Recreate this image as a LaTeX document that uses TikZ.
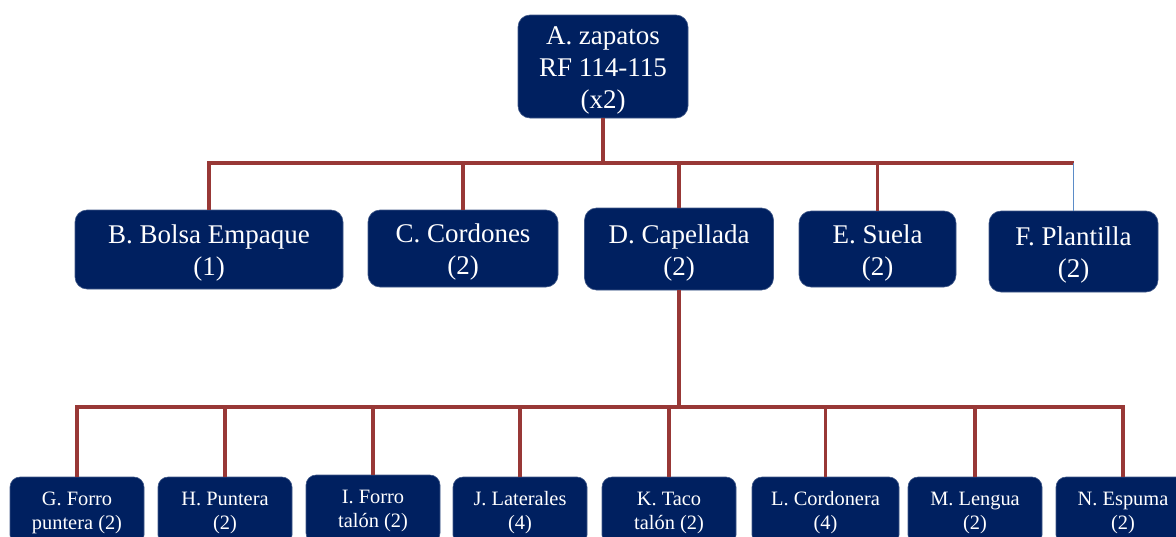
\documentclass[tikz,border=0pt]{standalone}
\usepackage{fontspec}
\setmainfont{Liberation Serif}
\newfontfamily\boxserif{Liberation Serif}
\definecolor{boxnavy}{RGB}{0,32,96}
\definecolor{linkred}{RGB}{152,56,54}
\definecolor{linkblue}{RGB}{91,140,200}
\tikzset{
  part/.style={fill=boxnavy, draw=boxnavy!75!white, line width=0.6pt,
    rounded corners=12pt, inner sep=0pt},
  subpart/.style={part, rounded corners=10pt, minimum width=134pt, minimum height=68pt},
  bigtext/.style={text=white, align=center, inner sep=0pt,
    font=\boxserif\fontsize{27}{32}\selectfont},
  smalltext/.style={text=white, align=center, inner sep=0pt,
    font=\boxserif\fontsize{20.4}{24}\selectfont},
  link/.style={draw=linkred, line width=3.5pt},
  thinlink/.style={draw=linkblue, line width=1.2pt},
}
\begin{document}
\begin{tikzpicture}[x=1pt, y=-1pt]
\useasboundingbox (0,0) rectangle (1176,536);
\clip (0,0) rectangle (1176,536);

% top level
\node[part, minimum width=170pt, minimum height=103pt] (A) at (603,66.5) {};
\node[bigtext] (At) at ([yshift=-4pt]A.center) {A. zapatos\\RF 114-115\\(x2)};

% second level
\node[part, minimum width=268pt, minimum height=79pt] (B) at (209,249.5) {};
\node[part, minimum width=190pt, minimum height=77pt] (C) at (463,248.5) {};
\node[part, minimum width=189pt, minimum height=82pt] (D) at (679,249) {};
\node[part, minimum width=157pt, minimum height=76pt] (E) at (877.5,249) {};
\node[part, minimum width=169pt, minimum height=81pt] (F) at (1073.5,251.5) {};
\node[bigtext] (Bt) at ([yshift=-4pt]B.center) {B. Bolsa Empaque\\(1)};
\node[bigtext] (Ct) at ([yshift=-4pt]C.center) {C. Cordones\\(2)};
\node[bigtext] (Dt) at ([yshift=-4pt]D.center) {D. Capellada\\(2)};
\node[bigtext] (Et) at ([yshift=-4pt]E.center) {E. Suela\\(2)};
\node[bigtext] (Ft) at ([yshift=-4pt]F.center) {F. Plantilla\\(2)};

% third level (parts of the upper)
\node[subpart] (G) at (77,511) {};
\node[subpart] (H) at (225,511) {};
\node[subpart] (I) at (373,509) {};
\node[subpart] (J) at (520,511) {};
\node[subpart] (K) at (669,511) {};
\node[subpart, minimum width=147pt] (L) at (825.5,511) {};
\node[subpart] (M) at (975,511) {};
\node[subpart] (N) at (1123,511) {};
\node[smalltext] (Gt) at ([yshift=-2pt]G.center) {G. Forro\\puntera (2)};
\node[smalltext] (Ht) at ([yshift=-2pt]H.center) {H. Puntera\\(2)};
\node[smalltext] (It) at ([yshift=-2pt]I.center) {I. Forro\\tal\'on (2)};
\node[smalltext] (Jt) at ([yshift=-2pt]J.center) {J. Laterales\\(4)};
\node[smalltext] (Kt) at ([yshift=-2pt]K.center) {K. Taco\\tal\'on (2)};
\node[smalltext] (Lt) at ([yshift=-2pt]L.center) {L. Cordonera\\(4)};
\node[smalltext] (Mt) at ([yshift=-2pt]M.center) {M. Lengua\\(2)};
\node[smalltext] (Nt) at ([yshift=-2pt]N.center) {N. Espuma\\(2)};

% connectors
\coordinate (topbus) at (603,163);
\coordinate (lowbus) at (D.south |- 0,407);
\coordinate (fjoin) at (topbus -| F.north);

\draw[link] (A.south) -- (topbus);
\foreach \n in {B,C,D,E} \draw[link] (topbus) -| (\n.north);
\draw[link] (topbus) -- (fjoin);
\draw[thinlink] (fjoin) -- (F.north);

\draw[link] (D.south) -- (lowbus);
\foreach \n in {G,H,I,J,K,L,M,N} \draw[link] (lowbus) -| (\n.north);
\end{tikzpicture}
\end{document}
